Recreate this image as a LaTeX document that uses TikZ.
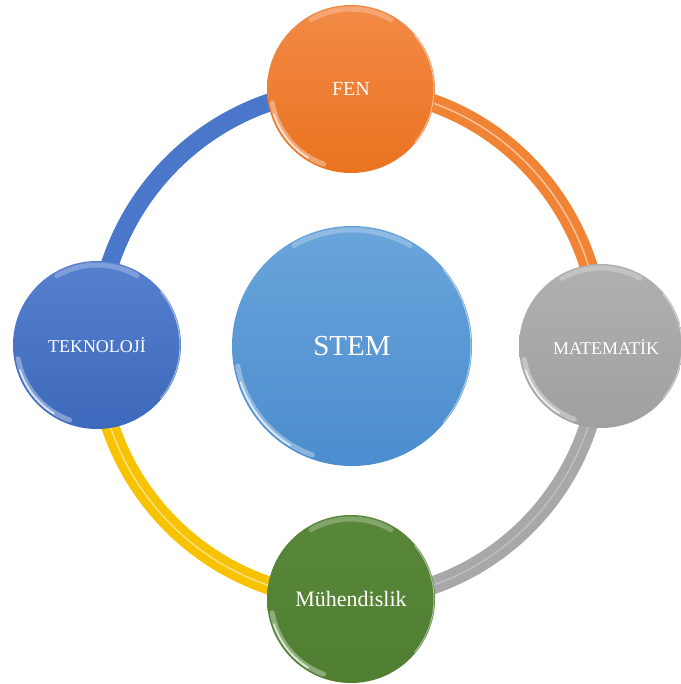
\documentclass[tikz,border=0pt]{standalone}
\usepackage{fontspec}
\setmainfont{Liberation Serif}
\pgfdeclarelayer{bg}
\pgfsetlayers{bg,main}
\definecolor{orTop}{HTML}{F28A46}
\definecolor{orBot}{HTML}{EA7320}
\definecolor{orRing}{HTML}{F08434}
\definecolor{grTop}{HTML}{B0B0B0}
\definecolor{grBot}{HTML}{A0A0A0}
\definecolor{grRing}{HTML}{A8A8A8}
\definecolor{blTop}{HTML}{5680CE}
\definecolor{blBot}{HTML}{3D69BC}
\definecolor{blRing}{HTML}{4A77CA}
\definecolor{gnTop}{HTML}{58873A}
\definecolor{gnBot}{HTML}{507F31}
\definecolor{yeRing}{HTML}{F7C200}
\definecolor{stTop}{HTML}{6AA4DB}
\definecolor{stBot}{HTML}{4B8DCE}
\begin{document}
\begin{tikzpicture}[x=1pt,y=1pt,
  ball/.style={circle, inner sep=0pt, text=white, minimum size=#1},
  ringarc/.style={line width=18pt},
  gloss/.style={white, line cap=round}
]
\useasboundingbox (0,0) rectangle (680,684);

\node[ball=168, top color=orTop, bottom color=orBot] (fen) at (351,595) {\fontsize{20}{24}\selectfont FEN};
\node[ball=164, top color=grTop, bottom color=grBot] (mat) at (601,338) {};
\node[text=white] (matlabel) at (606,337) {\fontsize{18}{22}\selectfont MATEMATİK};
\node[ball=168, top color=blTop, bottom color=blBot] (tek) at (97,339) {\fontsize{18}{22}\selectfont TEKNOLOJİ};
\node[ball=168, top color=gnTop, bottom color=gnBot] (muh) at (351,85) {\fontsize{22}{26}\selectfont Mühendislik};
\node[ball=240, top color=stTop, bottom color=stBot] (stem) at (352,338) {\fontsize{29}{34}\selectfont STEM};

\begin{pgfonlayer}{bg}
  \draw[ringarc, blRing] (tek.center) to[out=90,in=180] (fen.center);
  \draw[ringarc, orRing] (fen.center) to[out=0,in=90] (mat.center);
  \draw[ringarc, grRing] (mat.center) to[out=-90,in=0] (muh.center);
  \draw[ringarc, yeRing] (muh.center) to[out=180,in=-90] (tek.center);
  \draw[white, opacity=.5, line width=1.5pt, shift={(-4.5,-4.5)}] (fen.center) to[out=0,in=90] (mat.center);
  \draw[white, opacity=.5, line width=1.5pt, shift={(4.5,4.5)}] (muh.center) to[out=180,in=-90] (tek.center);
  \draw[white, opacity=.3, line width=1.2pt, shift={(-4.5,4.5)}] (mat.center) to[out=-90,in=0] (muh.center);
\end{pgfonlayer}

\foreach \n/\r in {fen/84, mat/82, tek/84, muh/84, stem/120} {
  \draw[gloss, opacity=.35, line width=5pt]
    ([shift={(190:\r-4)}]\n.center) arc[start angle=190, end angle=250, radius=\r-4];
  \draw[gloss, opacity=.7, line width=1.8pt]
    ([shift={(198:\r-3)}]\n.center) arc[start angle=198, end angle=238, radius=\r-3];
  \draw[gloss, opacity=.25, line width=5pt]
    ([shift={(60:\r-4)}]\n.center) arc[start angle=60, end angle=120, radius=\r-4];
  \draw[gloss, opacity=.5, line width=1pt]
    ([shift={(-40:\r-1)}]\n.center) arc[start angle=-40, end angle=40, radius=\r-1];
}
\end{tikzpicture}
\end{document}
